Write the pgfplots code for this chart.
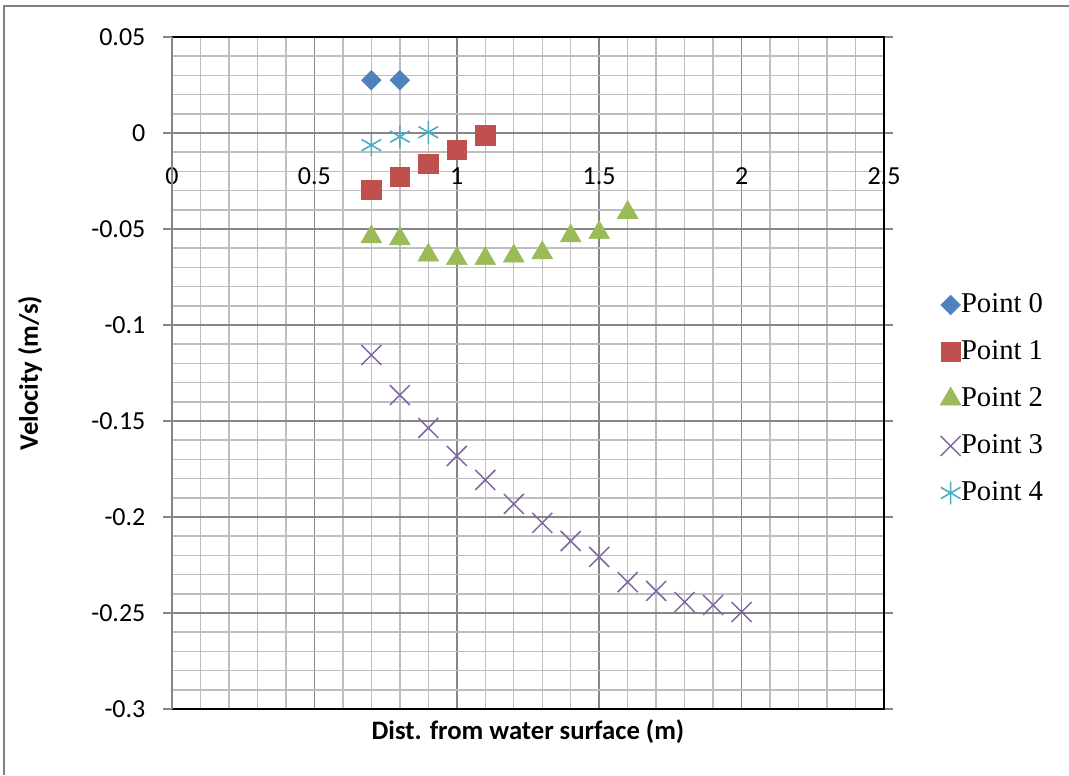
\documentclass[border=0pt]{standalone}
\usepackage{fontspec}
\setmainfont{Liberation Serif}
\newfontfamily\calibri{Carlito}
\usepackage{pgfplots}
\pgfplotsset{compat=1.18}
\definecolor{cBlue}{HTML}{4F81BD}
\definecolor{cRed}{HTML}{C0504D}
\definecolor{cGreen}{HTML}{9BBB59}
\definecolor{cPurple}{HTML}{8064A2}
\definecolor{cCyan}{HTML}{4BACC6}
\definecolor{gMajor}{RGB}{134,134,134}
\definecolor{gMinor}{RGB}{190,190,190}
\begin{document}
\begin{tikzpicture}
\useasboundingbox (0,0) rectangle (801.75pt,581.25pt);
\draw[gray, line width=1.5pt] (3pt,0) -- (3pt,576.75pt) -- (801.75pt,576.75pt);
\begin{axis}[
  at={(129pt,49.5pt)}, anchor=south west,
  scale only axis, width=534pt, height=504pt,
  xmin=0, xmax=2.5, ymin=-0.3, ymax=0.05,
  xtick={0,0.5,1,1.5,2,2.5},
  xticklabels={0,0.5,1,1.5,2,2.5},
  ytick={-0.3,-0.25,-0.2,-0.15,-0.1,-0.05,0,0.05},
  yticklabels={-0.3,-0.25,-0.2,-0.15,-0.1,-0.05,0,0.05},
  minor x tick num=4, minor y tick num=4,
  grid=both,
  major grid style={gMajor, line width=1.1pt},
  minor grid style={gMinor, line width=1.1pt},
  axis line style={draw=none},
  tick align=outside,
  major tick length=6.75pt,
  minor tick length=0pt,
  xtick style={draw=none},
  ytick style={gMajor, line width=1.1pt},
  tick label style={font=\calibri\fontsize{19.5}{19.5}\selectfont},
  xticklabel style={anchor=center, yshift=406.5pt},
  yticklabel style={anchor=east, inner sep=0pt, xshift=-13pt},
  xlabel={Dist. from water surface (m)},
  ylabel={Velocity (m/s)},
  label style={font=\calibri\bfseries\fontsize{20}{20}\selectfont},
  xlabel style={at={(axis description cs:0.5,0)}, anchor=center, yshift=-17.25pt},
  ylabel style={at={(axis description cs:-0.1994,0.5)}, anchor=center},
  legend style={at={(axis description cs:1.073,0.4613)}, anchor=west, draw=none, fill=none,
    font=\fontsize{21.5}{21.5}\selectfont, row sep=14.75pt,
    nodes={inner sep=0pt, text height=15.5pt, text depth=5pt}},
  legend cell align=left,
  legend image code/.code={\draw[#1] plot coordinates {(0.25cm,0cm)};},
  clip=false,
]
\addplot[only marks, mark=square*, mark size=5.2pt, mark options={rotate=45, fill=cBlue, draw=cBlue}] coordinates {
(0.7,0.0275) (0.8,0.0275)};
\addlegendentry{Point 0}
\addplot[only marks, mark=square*, mark size=7.3pt, mark options={fill=cRed, draw=cRed}] coordinates {
(0.7,-0.0297) (0.8,-0.0228) (0.9,-0.0160) (1.0,-0.0087) (1.1,-0.0012)};
\addlegendentry{Point 1}
\addplot[only marks, mark=triangle*, mark size=9pt, mark options={fill=cGreen, draw=cGreen}] coordinates {
(0.7,-0.0541) (0.8,-0.0551) (0.9,-0.0636) (1.0,-0.0654) (1.1,-0.0654) (1.2,-0.0641) (1.3,-0.0624) (1.4,-0.0536) (1.5,-0.0519) (1.6,-0.0414)};
\addlegendentry{Point 2}
\addplot[only marks, mark=x, mark size=10.6pt, mark options={draw=cPurple, line width=1.1pt}] coordinates {
(0.7,-0.1156) (0.8,-0.1365) (0.9,-0.1536) (1.0,-0.1682) (1.1,-0.1807) (1.2,-0.1932) (1.3,-0.2031) (1.4,-0.2125) (1.5,-0.2208) (1.6,-0.2339) (1.7,-0.2385) (1.8,-0.2443) (1.9,-0.2458) (2.0,-0.2495)};
\addlegendentry{Point 3}
\addplot[only marks, mark=asterisk, mark size=8.5pt, mark options={draw=cCyan, line width=1.2pt}] coordinates {
(0.7,-0.0063) (0.8,-0.0019) (0.9,0.0004)};
\addlegendentry{Point 4}
\draw[black, line width=1.6pt] (rel axis cs:0,1) -- (rel axis cs:1,1) -- (rel axis cs:1,0) -- (rel axis cs:0,0);
\draw[gMajor, line width=1.3pt] (rel axis cs:0,0) -- (rel axis cs:0,1);
\end{axis}
\end{tikzpicture}
\end{document}
